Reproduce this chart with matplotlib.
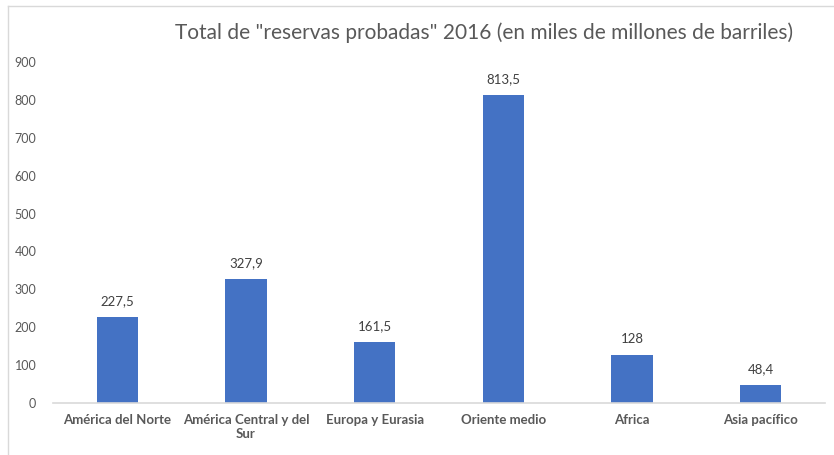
import numpy as np
import matplotlib
matplotlib.use('Agg')
import matplotlib.pyplot as plt
from matplotlib.lines import Line2D

plt.rcParams['font.family'] = ['Lato', 'DejaVu Sans']

regiones = ['América del Norte', 'América Central y del\nSur', 'Europa y Eurasia',
            'Oriente medio', 'Africa', 'Asia pacífico']
reservas = [227.5, 327.9, 161.5, 813.5, 128, 48.4]
etiquetas = ['227,5', '327,9', '161,5', '813,5', '128', '48,4']
yticks = np.arange(0, 901, 100)

W, H = 834, 455
fig = plt.figure(figsize=(W/100, H/100), dpi=100)
ax = fig.add_axes([53/W, 52/H, (825-53)/W, (403-62)/H])

x = np.arange(len(regiones))
ax.bar(x, reservas, width=0.32, color='#4472C4', zorder=2)
for xi, v, lab in zip(x, reservas, etiquetas):
    ax.annotate(lab, (xi, v), xytext=(0, 7), textcoords='offset points',
                ha='center', va='bottom', fontsize=9.5, color='#404040')

ax.set_xlim(-0.5, len(regiones) - 0.5)
ax.set_ylim(0, 900)
ax.set_yticks(yticks)
ax.set_xticks(x)
ax.set_xticklabels(regiones, fontsize=9.5, color='#595959', fontweight='bold')
ax.tick_params(axis='y', length=0, labelsize=9, labelcolor='#595959', pad=12)
ax.tick_params(axis='x', length=0, pad=8)
for s in ['top', 'right', 'left']:
    ax.spines[s].set_visible(False)
ax.spines['bottom'].set_color('#D9D9D9')
ax.spines['bottom'].set_linewidth(1.2)

fig.text(484/W, 1 - 33/H, 'Total de "reservas probadas" 2016 (en miles de millones de barriles)',
         ha='center', va='center', fontsize=15, color='#595959')

# marco del grafico
fig.add_artist(Line2D([8/W, 8/W], [0, 1 - 6/H], color='#D9D9D9', lw=1))
fig.add_artist(Line2D([8/W, 1], [1 - 6/H, 1 - 6/H], color='#D9D9D9', lw=1))

fig.savefig('out.png', dpi=100, facecolor='white')
